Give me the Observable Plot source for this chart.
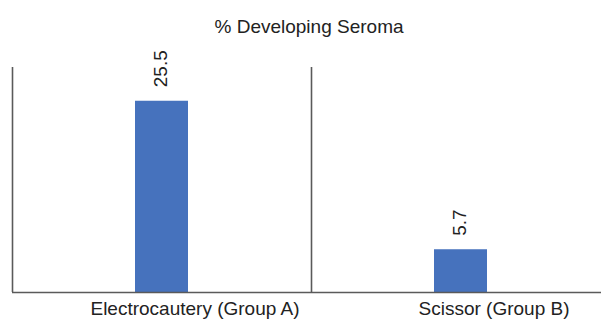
<!DOCTYPE html>
<html>
<head>
<meta charset="utf-8">
<script src="https://cdn.jsdelivr.net/npm/d3@7"></script>
<script src="https://cdn.jsdelivr.net/npm/@observablehq/plot@0.6"></script>
<style>
  html, body { margin: 0; padding: 0; background: #fff; }
  svg { display: block; }
</style>
</head>
<body>
<div id="chart"></div>
<script>
const categories = ["Electrocautery (Group A)", "Scissor (Group B)"];
const values = [25.5, 5.7];
const chartTitle = "% Developing Seroma";
const yMax = 30;

const data = categories.map((c, i) => ({category: c, value: values[i]}));

const W = 601, H = 322;
const xRange = [12, 610];
const step = (xRange[1] - xRange[0]) / categories.length;
const barWidth = 53;
const inset = (step - barWidth) / 2;
const lineColor = "#5a5a5a";
const textColor = "#222";
const font = "'Liberation Sans', Arial, Helvetica, sans-serif";

const chart = Plot.plot({
  width: W,
  height: H,
  marginLeft: 12,
  marginRight: 0,
  marginTop: 67,
  marginBottom: 30,
  style: {fontFamily: font, color: textColor, background: "#fff"},
  x: {type: "band", domain: categories, range: xRange, padding: 0},
  y: {domain: [0, yMax], axis: null},
  marks: [
    Plot.barY(data, {x: "category", y: "value", fill: "#4672bd", insetLeft: inset, insetRight: inset}),
    Plot.ruleX(categories, {x: d => d, dx: -step / 2, y1: 0, y2: yMax, stroke: lineColor, strokeWidth: 1.6}),
    Plot.ruleY([0], {stroke: lineColor, strokeWidth: 1.6}),
    Plot.text(data, {x: "category", y: "value", text: d => String(d.value), rotate: -90, textAnchor: "start", lineAnchor: "middle", dy: -14, dx: -1, fontSize: 19, fill: textColor}),
    Plot.axisX({tickSize: 0, tickPadding: 9, fontSize: 19, dx: 33, label: null, fill: textColor}),
    Plot.text([chartTitle], {frameAnchor: "top", text: d => d, lineAnchor: "bottom", dy: -35, dx: 2, fontSize: 19, fill: textColor})
  ]
});
document.getElementById("chart").appendChild(chart);
</script>
</body>
</html>
